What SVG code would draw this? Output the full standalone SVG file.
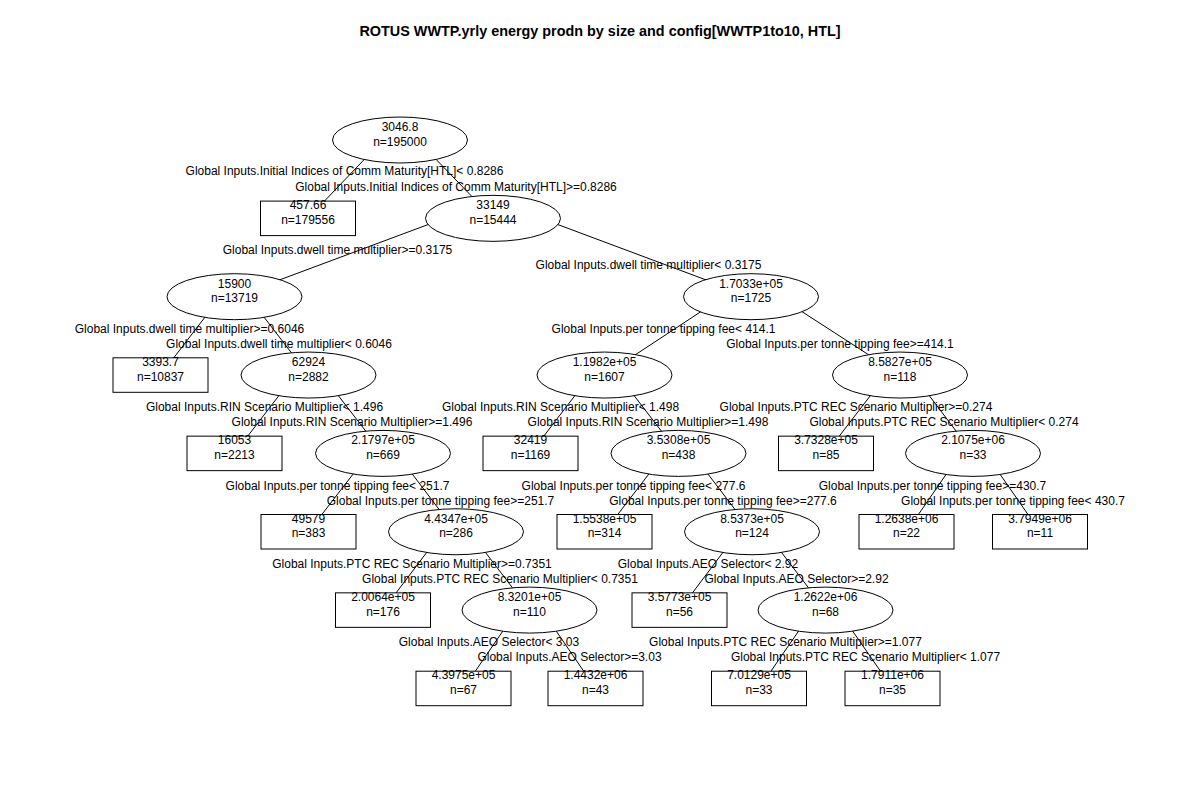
<svg xmlns="http://www.w3.org/2000/svg" width="1200" height="800" viewBox="0 0 1200 800">
  <style>
    text { font-family: "Liberation Sans", Arial, sans-serif; font-size: 12px; fill: #000; text-anchor: middle; }
    .title { font-size: 14.4px; font-weight: bold; }
    .edge { stroke: #000; stroke-width: 1; fill: none; }
    .split { fill: #fff; stroke: #000; stroke-width: 1; }
    .leaf { fill: #fff; stroke: #000; stroke-width: 1; }
  </style>
  <rect x="0" y="0" width="1200" height="800" fill="#fff"/>
  <text class="title" x="600" y="35.5">ROTUS WWTP.yrly energy prodn by size and config[WWTP1to10, HTL]</text>

  <!-- branches: from a point just above each parent centre to the child centre; node shapes cover the ends -->
  <g id="connectors">
    <line class="edge" x1="400" y1="122" x2="308" y2="218.35"/>
    <line class="edge" x1="400" y1="122" x2="493" y2="218.35"/>
    <line class="edge" x1="493" y1="200.35" x2="234.5" y2="296.7"/>
    <line class="edge" x1="493" y1="200.35" x2="751" y2="296.7"/>
    <line class="edge" x1="234.5" y1="278.7" x2="160.5" y2="375.05"/>
    <line class="edge" x1="234.5" y1="278.7" x2="308.5" y2="375.05"/>
    <line class="edge" x1="751" y1="278.7" x2="604.5" y2="375.05"/>
    <line class="edge" x1="751" y1="278.7" x2="900" y2="375.05"/>
    <line class="edge" x1="308.5" y1="357.05" x2="234.5" y2="453.4"/>
    <line class="edge" x1="308.5" y1="357.05" x2="383" y2="453.4"/>
    <line class="edge" x1="604.5" y1="357.05" x2="530.5" y2="453.4"/>
    <line class="edge" x1="604.5" y1="357.05" x2="678.5" y2="453.4"/>
    <line class="edge" x1="900" y1="357.05" x2="826" y2="453.4"/>
    <line class="edge" x1="900" y1="357.05" x2="973" y2="453.4"/>
    <line class="edge" x1="383" y1="435.4" x2="308.5" y2="531.75"/>
    <line class="edge" x1="383" y1="435.4" x2="456" y2="531.75"/>
    <line class="edge" x1="678.5" y1="435.4" x2="604.5" y2="531.75"/>
    <line class="edge" x1="678.5" y1="435.4" x2="752" y2="531.75"/>
    <line class="edge" x1="973" y1="435.4" x2="906.5" y2="531.75"/>
    <line class="edge" x1="973" y1="435.4" x2="1040" y2="531.75"/>
    <line class="edge" x1="456" y1="513.75" x2="383" y2="610.1"/>
    <line class="edge" x1="456" y1="513.75" x2="529.5" y2="610.1"/>
    <line class="edge" x1="752" y1="513.75" x2="679.5" y2="610.1"/>
    <line class="edge" x1="752" y1="513.75" x2="825.5" y2="610.1"/>
    <line class="edge" x1="529.5" y1="592.1" x2="463.5" y2="688.45"/>
    <line class="edge" x1="529.5" y1="592.1" x2="595.5" y2="688.45"/>
    <line class="edge" x1="825.5" y1="592.1" x2="759" y2="688.45"/>
    <line class="edge" x1="825.5" y1="592.1" x2="892.5" y2="688.45"/>
  </g>

  <!-- split conditions written beside each branch -->
  <g id="split-labels">
    <text x="344.5" y="175">Global Inputs.Initial Indices of Comm Maturity[HTL]&lt; 0.8286</text>
    <text x="456" y="191">Global Inputs.Initial Indices of Comm Maturity[HTL]&gt;=0.8286</text>
    <text x="337.5" y="254">Global Inputs.dwell time multiplier&gt;=0.3175</text>
    <text x="648.5" y="269">Global Inputs.dwell time multiplier&lt; 0.3175</text>
    <text x="189.5" y="332.5">Global Inputs.dwell time multiplier&gt;=0.6046</text>
    <text x="279" y="347.5">Global Inputs.dwell time multiplier&lt; 0.6046</text>
    <text x="663.5" y="332.5">Global Inputs.per tonne tipping fee&lt; 414.1</text>
    <text x="840" y="347.5">Global Inputs.per tonne tipping fee&gt;=414.1</text>
    <text x="264.5" y="411">Global Inputs.RIN Scenario Multiplier&lt; 1.496</text>
    <text x="352" y="426">Global Inputs.RIN Scenario Multiplier&gt;=1.496</text>
    <text x="560.5" y="411">Global Inputs.RIN Scenario Multiplier&lt; 1.498</text>
    <text x="648" y="426">Global Inputs.RIN Scenario Multiplier&gt;=1.498</text>
    <text x="856" y="411">Global Inputs.PTC REC Scenario Multiplier&gt;=0.274</text>
    <text x="944" y="426">Global Inputs.PTC REC Scenario Multiplier&lt; 0.274</text>
    <text x="337.5" y="489.5">Global Inputs.per tonne tipping fee&lt; 251.7</text>
    <text x="440.5" y="504.5">Global Inputs.per tonne tipping fee&gt;=251.7</text>
    <text x="633.5" y="489.5">Global Inputs.per tonne tipping fee&lt; 277.6</text>
    <text x="723" y="504.5">Global Inputs.per tonne tipping fee&gt;=277.6</text>
    <text x="932.5" y="489.5">Global Inputs.per tonne tipping fee&gt;=430.7</text>
    <text x="1013" y="504.5">Global Inputs.per tonne tipping fee&lt; 430.7</text>
    <text x="412" y="568">Global Inputs.PTC REC Scenario Multiplier&gt;=0.7351</text>
    <text x="500" y="583">Global Inputs.PTC REC Scenario Multiplier&lt; 0.7351</text>
    <text x="708" y="568">Global Inputs.AEO Selector&lt; 2.92</text>
    <text x="796.5" y="583">Global Inputs.AEO Selector&gt;=2.92</text>
    <text x="489" y="646">Global Inputs.AEO Selector&lt; 3.03</text>
    <text x="569.5" y="661">Global Inputs.AEO Selector&gt;=3.03</text>
    <text x="785.5" y="646">Global Inputs.PTC REC Scenario Multiplier&gt;=1.077</text>
    <text x="865.5" y="661">Global Inputs.PTC REC Scenario Multiplier&lt; 1.077</text>
  </g>

  <!-- internal nodes (ellipses) -->
  <g id="node-root"><ellipse class="split" cx="400" cy="140" rx="67.5" ry="23"/><text x="400" y="131">3046.8</text><text x="400" y="145.5">n=195000</text></g>
  <g id="node-33149"><ellipse class="split" cx="493" cy="218.35" rx="67.5" ry="23"/><text x="493" y="209.35">33149</text><text x="493" y="223.85">n=15444</text></g>
  <g id="node-15900"><ellipse class="split" cx="234.5" cy="296.7" rx="67.5" ry="23"/><text x="234.5" y="287.7">15900</text><text x="234.5" y="302.2">n=13719</text></g>
  <g id="node-1.7033e05"><ellipse class="split" cx="751" cy="296.7" rx="67.5" ry="23"/><text x="751" y="287.7">1.7033e+05</text><text x="751" y="302.2">n=1725</text></g>
  <g id="node-62924"><ellipse class="split" cx="308.5" cy="375.05" rx="67.5" ry="23"/><text x="308.5" y="366.05">62924</text><text x="308.5" y="380.55">n=2882</text></g>
  <g id="node-1.1982e05"><ellipse class="split" cx="604.5" cy="375.05" rx="67.5" ry="23"/><text x="604.5" y="366.05">1.1982e+05</text><text x="604.5" y="380.55">n=1607</text></g>
  <g id="node-8.5827e05"><ellipse class="split" cx="900" cy="375.05" rx="67.5" ry="23"/><text x="900" y="366.05">8.5827e+05</text><text x="900" y="380.55">n=118</text></g>
  <g id="node-2.1797e05"><ellipse class="split" cx="383" cy="453.4" rx="67.5" ry="23"/><text x="383" y="444.4">2.1797e+05</text><text x="383" y="458.9">n=669</text></g>
  <g id="node-3.5308e05"><ellipse class="split" cx="678.5" cy="453.4" rx="67.5" ry="23"/><text x="678.5" y="444.4">3.5308e+05</text><text x="678.5" y="458.9">n=438</text></g>
  <g id="node-2.1075e06"><ellipse class="split" cx="973" cy="453.4" rx="67.5" ry="23"/><text x="973" y="444.4">2.1075e+06</text><text x="973" y="458.9">n=33</text></g>
  <g id="node-4.4347e05"><ellipse class="split" cx="456" cy="531.75" rx="67.5" ry="23"/><text x="456" y="522.75">4.4347e+05</text><text x="456" y="537.25">n=286</text></g>
  <g id="node-8.5373e05"><ellipse class="split" cx="752" cy="531.75" rx="67.5" ry="23"/><text x="752" y="522.75">8.5373e+05</text><text x="752" y="537.25">n=124</text></g>
  <g id="node-8.3201e05"><ellipse class="split" cx="529.5" cy="610.1" rx="67.5" ry="23"/><text x="529.5" y="601.1">8.3201e+05</text><text x="529.5" y="615.6">n=110</text></g>
  <g id="node-1.2622e06"><ellipse class="split" cx="825.5" cy="610.1" rx="67.5" ry="23"/><text x="825.5" y="601.1">1.2622e+06</text><text x="825.5" y="615.6">n=68</text></g>

  <!-- terminal nodes (rectangles) -->
  <g id="leaf-457.66"><rect class="leaf" x="260.5" y="201.1" width="95" height="34.5"/><text x="308" y="209.35">457.66</text><text x="308" y="223.85">n=179556</text></g>
  <g id="leaf-3393.7"><rect class="leaf" x="113" y="357.8" width="95" height="34.5"/><text x="160.5" y="366.05">3393.7</text><text x="160.5" y="380.55">n=10837</text></g>
  <g id="leaf-16053"><rect class="leaf" x="187" y="436.15" width="95" height="34.5"/><text x="234.5" y="444.4">16053</text><text x="234.5" y="458.9">n=2213</text></g>
  <g id="leaf-32419"><rect class="leaf" x="483" y="436.15" width="95" height="34.5"/><text x="530.5" y="444.4">32419</text><text x="530.5" y="458.9">n=1169</text></g>
  <g id="leaf-3.7328e05"><rect class="leaf" x="778.5" y="436.15" width="95" height="34.5"/><text x="826" y="444.4">3.7328e+05</text><text x="826" y="458.9">n=85</text></g>
  <g id="leaf-49579"><rect class="leaf" x="261" y="514.5" width="95" height="34.5"/><text x="308.5" y="522.75">49579</text><text x="308.5" y="537.25">n=383</text></g>
  <g id="leaf-1.5538e05"><rect class="leaf" x="557" y="514.5" width="95" height="34.5"/><text x="604.5" y="522.75">1.5538e+05</text><text x="604.5" y="537.25">n=314</text></g>
  <g id="leaf-1.2638e06"><rect class="leaf" x="859" y="514.5" width="95" height="34.5"/><text x="906.5" y="522.75">1.2638e+06</text><text x="906.5" y="537.25">n=22</text></g>
  <g id="leaf-3.7949e06"><rect class="leaf" x="992.5" y="514.5" width="95" height="34.5"/><text x="1040" y="522.75">3.7949e+06</text><text x="1040" y="537.25">n=11</text></g>
  <g id="leaf-2.0064e05"><rect class="leaf" x="335.5" y="592.85" width="95" height="34.5"/><text x="383" y="601.1">2.0064e+05</text><text x="383" y="615.6">n=176</text></g>
  <g id="leaf-3.5773e05"><rect class="leaf" x="632" y="592.85" width="95" height="34.5"/><text x="679.5" y="601.1">3.5773e+05</text><text x="679.5" y="615.6">n=56</text></g>
  <g id="leaf-4.3975e05"><rect class="leaf" x="416" y="671.2" width="95" height="34.5"/><text x="463.5" y="679.45">4.3975e+05</text><text x="463.5" y="693.95">n=67</text></g>
  <g id="leaf-1.4432e06"><rect class="leaf" x="548" y="671.2" width="95" height="34.5"/><text x="595.5" y="679.45">1.4432e+06</text><text x="595.5" y="693.95">n=43</text></g>
  <g id="leaf-7.0129e05"><rect class="leaf" x="711.5" y="671.2" width="95" height="34.5"/><text x="759" y="679.45">7.0129e+05</text><text x="759" y="693.95">n=33</text></g>
  <g id="leaf-1.7911e06"><rect class="leaf" x="845" y="671.2" width="95" height="34.5"/><text x="892.5" y="679.45">1.7911e+06</text><text x="892.5" y="693.95">n=35</text></g>
</svg>
